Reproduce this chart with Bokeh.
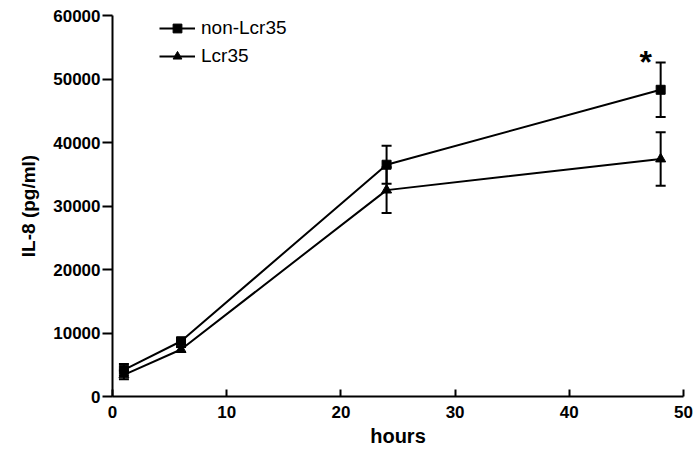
from bokeh.plotting import figure
from bokeh.models import (ColumnDataSource, Whisker, TeeHead, Legend, LegendItem,
                          SingleIntervalTicker, BasicTickFormatter, Range1d, Label)
from bokeh.embed import file_html
from bokeh.resources import INLINE

# ---- data ----
hours = [1, 6, 24, 48]
non_lcr35 = [4200, 8700, 36500, 48300]
non_lcr35_err = [900, 500, 3000, 4300]
lcr35 = [3400, 7400, 32500, 37400]
lcr35_err = [700, 400, 3600, 4200]
series_names = ["non-Lcr35", "Lcr35"]
star_text = "*"
star_x = 46.7
star_y = 52600

FONT = "Liberation Sans"

p = figure(width=700, height=449, output_backend="svg", toolbar_location=None,
           x_range=Range1d(0, 50), y_range=Range1d(0, 60000),
           min_border_left=112, min_border_right=17, min_border_top=15, min_border_bottom=52)
p.outline_line_color = None
p.xgrid.visible = False
p.ygrid.visible = False
p.background_fill_color = "white"
p.border_fill_color = "white"

src1 = ColumnDataSource(dict(x=hours, y=non_lcr35,
                             lo=[v - e for v, e in zip(non_lcr35, non_lcr35_err)],
                             hi=[v + e for v, e in zip(non_lcr35, non_lcr35_err)]))
src2 = ColumnDataSource(dict(x=hours, y=lcr35,
                             lo=[v - e for v, e in zip(lcr35, lcr35_err)],
                             hi=[v + e for v, e in zip(lcr35, lcr35_err)]))

l1 = p.line("x", "y", source=src1, line_color="black", line_width=2)
l2 = p.line("x", "y", source=src2, line_color="black", line_width=2)

for src in (src1, src2):
    w = Whisker(base="x", upper="hi", lower="lo", source=src, line_color="black", line_width=2,
                upper_head=TeeHead(size=10, line_width=2, line_color="black"),
                lower_head=TeeHead(size=10, line_width=2, line_color="black"))
    p.add_layout(w)

s1 = p.scatter("x", "y", source=src1, marker="square", size=9, fill_color="black", line_color="black")
s2 = p.scatter("x", "y", source=src2, marker="triangle", size=10, fill_color="black", line_color="black")

legend = Legend(items=[LegendItem(label=series_names[0], renderers=[l1, s1]),
                       LegendItem(label=series_names[1], renderers=[l2, s2])],
                location=(47, 329), orientation="vertical",
                glyph_width=36, glyph_height=22, label_height=22, label_standoff=6,
                spacing=6, padding=0, margin=0,
                border_line_color=None, background_fill_alpha=0,
                label_text_font=FONT, label_text_font_size="19px", label_text_color="black")
p.add_layout(legend)

p.add_layout(Label(x=star_x, y=star_y, text=star_text, text_align="center",
                   text_baseline="alphabetic", text_font=FONT, text_font_size="32px",
                   text_font_style="bold", text_color="black"))

# axes
p.xaxis.ticker = SingleIntervalTicker(interval=10)
p.yaxis.ticker = SingleIntervalTicker(interval=10000)
p.yaxis.formatter = BasicTickFormatter(use_scientific=False)
for ax in (p.xaxis[0], p.yaxis[0]):
    ax.axis_line_width = 2
    ax.axis_line_color = "black"
    ax.major_tick_line_width = 2
    ax.major_tick_line_color = "black"
    ax.minor_tick_line_color = None
    ax.major_label_text_font = FONT
    ax.major_label_text_font_size = "17px"
    ax.major_label_text_font_style = "bold"
    ax.major_label_text_color = "black"
    ax.axis_label_text_font = FONT
    ax.axis_label_text_font_style = "bold"
    ax.axis_label_text_color = "black"

p.xaxis.major_tick_in = 7
p.xaxis.major_tick_out = 0
p.xaxis.major_label_standoff = 5
p.xaxis.axis_label = "hours"
p.xaxis.axis_label_text_font_size = "20px"
p.xaxis.axis_label_standoff = 4

p.yaxis.major_tick_in = 0
p.yaxis.major_tick_out = 10
p.yaxis.major_label_standoff = 2
p.yaxis.axis_label = "IL-8 (pg/ml)"
p.yaxis.axis_label_text_font_size = "19px"
p.yaxis.axis_label_standoff = 11

open("out.html", "w").write(file_html(p, INLINE))
